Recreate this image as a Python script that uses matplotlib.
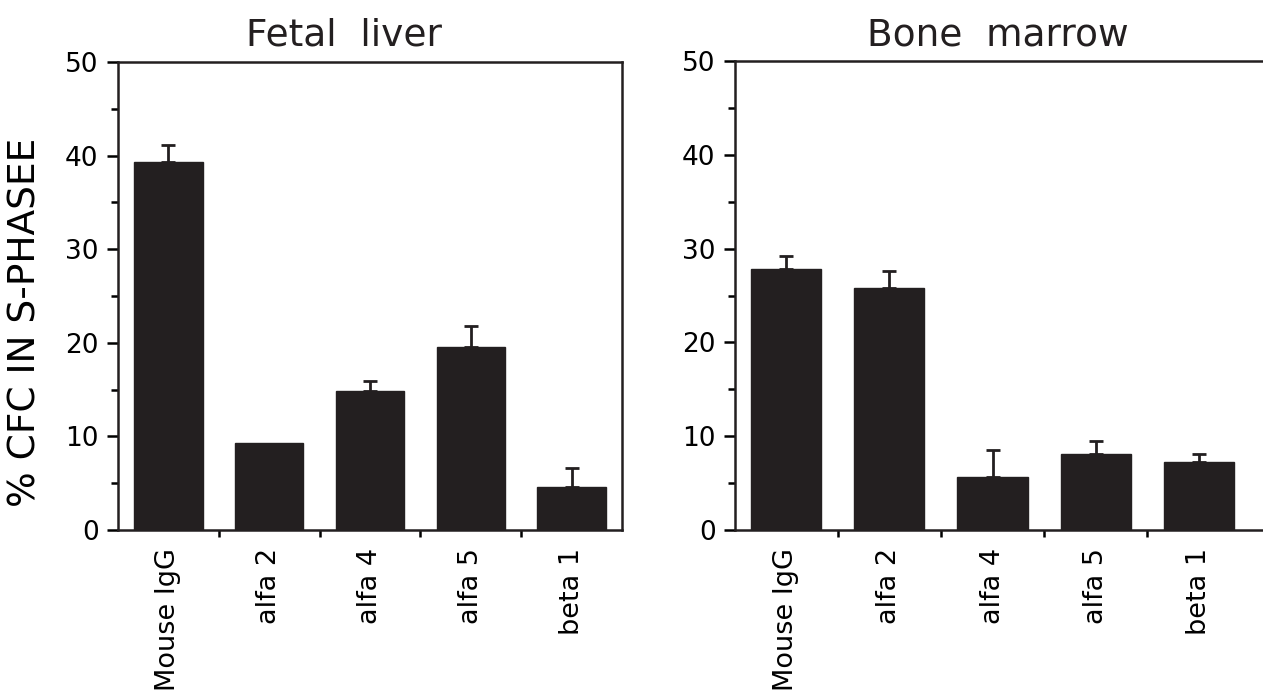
import matplotlib
matplotlib.use("Agg")
import matplotlib.pyplot as plt
import numpy as np

categories = ["Mouse IgG", "alfa 2", "alfa 4", "alfa 5", "beta 1"]
fetal_values = [39.3, 9.3, 14.9, 19.5, 4.6]
fetal_err = [1.8, 0.0, 1.0, 2.3, 2.0]
marrow_values = [27.8, 25.8, 5.7, 8.1, 7.25]
marrow_err = [1.4, 1.8, 2.8, 1.4, 0.8]
titles = ["Fetal  liver", "Bone  marrow"]
ylabel = "% CFC IN S-PHASEE"
yticks = [0, 10, 20, 30, 40, 50]

plt.rcParams['font.family'] = ['DejaVu Sans']
W, H = 1263, 692
fig = plt.figure(figsize=(W / 100, H / 100), dpi=100)

bar_color = "#231f20"

def px_axes(l, r, t, b):
    return fig.add_axes([l / W, 1 - b / H, (r - l) / W, (b - t) / H])

ax1 = px_axes(118, 622, 62, 530)
ax2 = px_axes(735, 1262, 61, 530)

panels = [(ax1, fetal_values, fetal_err, (-0.5, 4.5), 0.449, 1.036),
          (ax2, marrow_values, marrow_err, (-0.494, 4.61), 0.498, 1.034)]

for i, (ax, vals, errs, xl, tx, ty) in enumerate(panels):
    x = np.arange(len(categories))
    ax.bar(x, vals, width=0.68, color=bar_color, edgecolor=bar_color, zorder=2)
    e = np.array(errs)
    mask = e > 0
    ax.errorbar(x[mask], np.array(vals)[mask], yerr=[np.zeros(mask.sum()), e[mask]],
                fmt='none', ecolor=bar_color, elinewidth=2, capsize=5, capthick=2, zorder=3)
    ax.set_xlim(*xl)
    ax.set_ylim(0, 50)
    ax.set_yticks(yticks)
    ax.set_yticks(np.arange(5, 50, 10), minor=True)
    ax.set_xticks(x)
    ax.set_xticklabels(categories, rotation=90, fontsize=19.5)
    ax.set_xticks(np.arange(0.5, len(categories) - 1, 1.0), minor=True)
    ax.tick_params(axis='x', which='major', length=0, pad=13)
    ax.tick_params(axis='x', which='minor', length=5, width=1.8, direction='out')
    ax.tick_params(axis='y', which='major', length=8, width=1.8, labelsize=19, pad=6)
    ax.tick_params(axis='y', which='minor', length=5, width=1.8)
    for s in ax.spines.values():
        s.set_linewidth(1.8)
        s.set_color(bar_color)
    ax.text(tx, ty, titles[i], transform=ax.transAxes, ha='center', va='baseline',
            fontsize=27, color=bar_color)

ax2.spines['right'].set_visible(False)
ax1.set_ylabel(ylabel, fontsize=27)
ax1.yaxis.set_label_coords(-0.148, 0.444)

fig.savefig("out.png", dpi=100, facecolor="white")
